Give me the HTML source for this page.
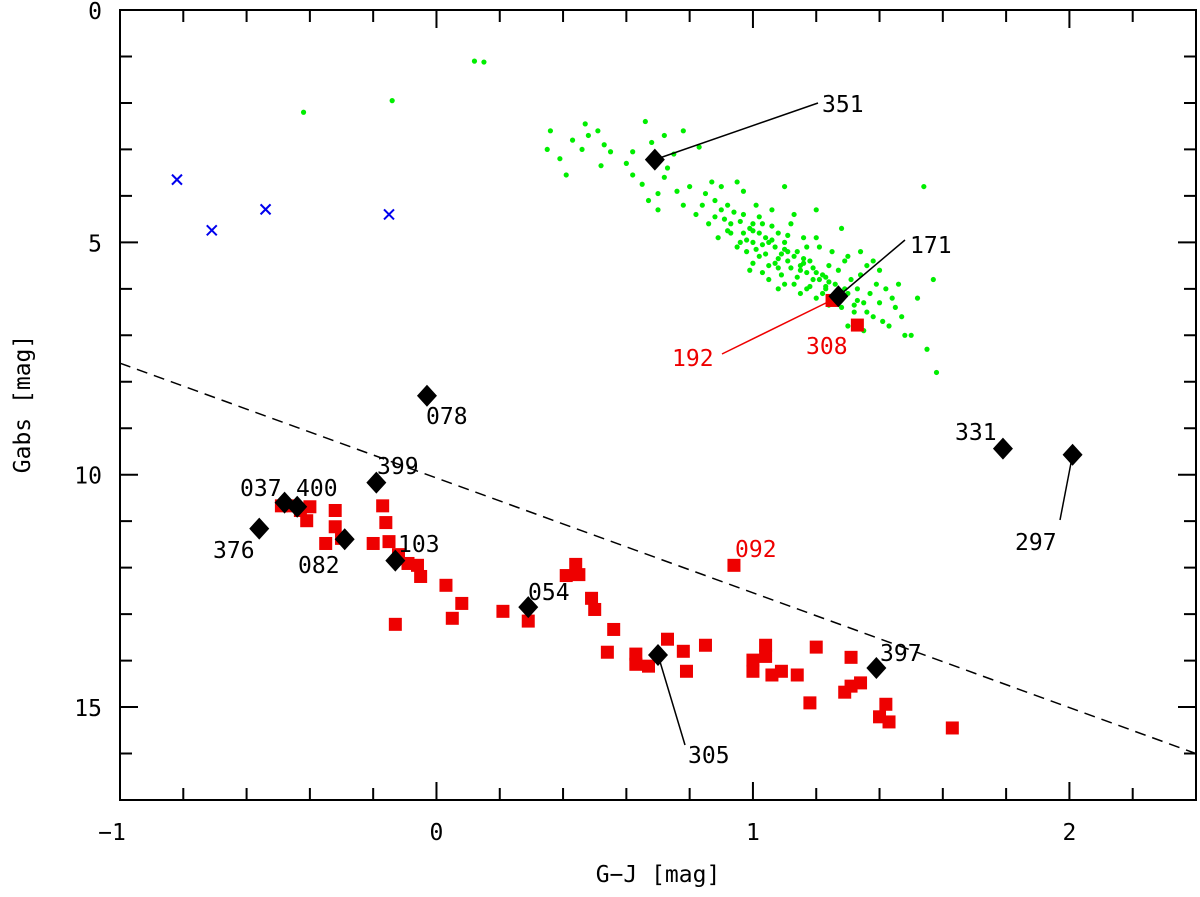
<!DOCTYPE html>
<html><head><meta charset="utf-8"><style>
body{margin:0;background:#fff}
svg text{font-family:"DejaVu Sans Mono","Liberation Mono",monospace;font-size:23px}
</style></head><body>
<svg id="chart" width="1200" height="892" xmlns="http://www.w3.org/2000/svg">
<g id="axes"></g><g id="marks"></g><g id="labels"></g>
</svg>
<script>
const xTicks=[-1,0,1,2];
const yTicks=[0,5,10,15];
const greenX=[0.12,0.15,-0.42,-0.14,0.36,0.35,0.39,0.41,0.43,0.47,0.48,0.51,0.55,0.53,0.46,0.52,0.6,0.62,0.66,0.68,0.72,0.78,0.83,0.75,0.62,0.65,0.67,0.7,0.72,0.73,0.8,0.78,0.82,0.85,0.88,0.9,0.92,0.95,0.97,0.86,0.89,0.91,0.93,0.95,0.97,0.99,1.0,1.01,1.02,1.03,1.04,1.05,1.06,1.07,1.08,1.09,1.1,1.11,1.12,1.13,1.14,1.15,1.16,1.17,1.18,1.19,1.2,1.21,1.22,1.23,1.24,1.25,1.26,1.27,1.28,1.29,1.3,1.31,1.32,1.33,1.34,1.35,1.36,1.37,1.38,1.39,1.4,1.42,1.43,1.45,1.47,1.5,1.52,1.54,1.57,1.58,1.55,1.48,0.94,0.96,0.98,1.0,1.02,1.04,1.06,1.08,1.1,1.12,1.14,1.16,1.18,1.2,1.22,1.24,1.26,1.0,0.98,0.96,0.93,0.9,1.05,1.1,1.15,1.3,1.35,1.02,1.06,1.11,1.17,1.25,1.3,1.34,1.38,0.87,1.1,1.2,1.28,1.2,0.99,1.03,1.08,0.84,0.76,0.7,0.88,1.13,1.01,1.07,1.13,1.19,1.23,1.29,1.33,1.36,1.41,1.44,1.46,1.4,0.97,1.03,1.09,1.15,1.21,1.27,1.05,1.11,1.17,1.23,0.92,1.0,1.08,1.16,1.24,1.32];
const greenY=[1.1,1.12,2.2,1.95,2.6,3.0,3.2,3.55,2.8,2.45,2.7,2.6,3.05,2.9,3.0,3.35,3.3,3.05,2.4,2.85,2.7,2.6,2.95,3.1,3.55,3.75,4.1,4.3,3.6,3.4,3.8,4.2,4.4,3.95,4.1,3.8,4.2,3.7,3.9,4.6,4.9,4.5,4.8,5.1,4.4,4.7,5.0,4.2,5.3,4.6,4.9,5.5,4.3,5.1,4.8,5.7,5.0,5.4,4.6,5.9,5.2,5.6,4.9,6.0,5.4,5.8,6.2,5.1,5.7,6.0,5.5,6.3,5.9,5.6,6.4,5.4,6.1,5.8,6.5,6.0,5.7,6.3,5.5,6.1,6.6,5.9,6.3,6.0,6.8,6.4,6.6,7.0,6.2,3.8,5.8,7.8,7.3,7.0,4.35,4.55,5.2,4.6,4.8,5.25,4.95,5.35,5.15,5.55,5.75,5.45,5.95,5.65,6.1,5.85,6.2,5.45,4.95,5.0,4.6,4.3,5.8,5.9,6.1,6.8,6.9,4.45,4.65,4.85,5.1,5.2,5.3,5.2,5.4,3.7,3.8,4.3,4.7,4.9,5.6,5.65,6.0,4.2,3.9,3.95,4.45,4.4,5.15,5.45,5.3,5.55,5.75,6.0,6.25,6.5,6.7,6.2,5.9,5.6,4.8,5.05,5.25,5.5,5.8,6.05,5.0,5.2,5.65,5.95,4.75,4.75,5.55,5.35,6.35,6.35];
const redX=[-0.49,-0.46,-0.43,-0.40,-0.41,-0.35,-0.32,-0.32,-0.30,-0.20,-0.17,-0.16,-0.15,-0.12,-0.09,-0.06,-0.05,-0.13,0.03,0.05,0.08,0.21,0.29,0.41,0.44,0.45,0.49,0.50,0.56,0.54,0.63,0.63,0.67,0.73,0.78,0.79,0.85,0.94,1.00,1.00,1.04,1.04,1.06,1.09,1.14,1.18,1.20,1.29,1.31,1.31,1.34,1.42,1.40,1.43,1.63,1.33,1.25];
const redY=[10.67,10.67,10.77,10.69,10.99,11.48,10.77,11.12,11.37,11.48,10.67,11.03,11.44,11.72,11.91,11.95,12.19,13.22,12.38,13.09,12.77,12.94,13.15,12.17,11.93,12.15,12.66,12.90,13.33,13.82,13.86,14.08,14.12,13.54,13.80,14.23,13.67,11.95,13.99,14.23,13.91,13.67,14.31,14.23,14.31,14.91,13.71,14.68,13.93,14.55,14.48,14.94,15.21,15.32,15.45,6.78,6.25];
const blueX=[-0.82,-0.71,-0.54,-0.15];
const blueY=[3.65,4.74,4.29,4.40];
const diaX=[0.69,1.27,-0.03,1.79,2.01,-0.19,-0.48,-0.44,-0.56,-0.29,-0.13,0.29,0.70,1.39];
const diaY=[3.22,6.16,8.30,9.44,9.57,10.17,10.60,10.69,11.16,11.39,11.85,12.85,13.88,14.16];
const diaLab=["351","171","078","331","297","399","037","400","376","082","103","054","305","397"];
const lineX=[-1,2.4];
const lineY=[7.6,16.0];

const X0=120,X1=1196,XMIN=-1,XMAX=2.4,Y0=10,Y1=800,YMIN=0,YMAX=17;
const sx=v=>X0+(v-XMIN)/(XMAX-XMIN)*(X1-X0);
const sy=v=>Y0+(v-YMIN)/(YMAX-YMIN)*(Y1-Y0);
const NS="http://www.w3.org/2000/svg";
function mk(tag,attrs,parent){const e=document.createElementNS(NS,tag);for(const k in attrs)e.setAttribute(k,attrs[k]);document.getElementById(parent).appendChild(e);return e;}

let f=mk('rect',{x:X0,y:Y0,width:X1-X0,height:Y1-Y0,fill:'none',stroke:'#000','stroke-width':2},'axes');


for(let i=0;i<=17;i++){const v=-1+i*0.2;const x=sx(v);const major=Math.abs(v-Math.round(v))<1e-6;const L=major?18:12;
 let t=mk('path',{d:`M${x},${Y1}v${-L}M${x},${Y0}v${L}`,stroke:'#000','stroke-width':2},'axes');
 
 }
for(let i=0;i<=17;i++){const y=sy(i);const L=i%5===0?18:12;
 let t=mk('path',{d:`M${X0},${y}h${L}M${X1},${y}h${-L}`,stroke:'#000','stroke-width':2},'axes');
 
 }
xTicks.forEach(v=>{let t=mk('text',{x:sx(v)+(v<0?-8:0),y:840,'text-anchor':'middle','font-size':26},'axes');t.textContent=v<0?'\u2212'+Math.abs(v):v;
 
 });
yTicks.forEach(v=>{let t=mk('text',{x:102,y:sy(v)+9,'text-anchor':'end','font-size':26},'axes');t.textContent=v;
 
 });
let xt=mk('text',{x:658,y:882,'text-anchor':'middle','font-size':26},'axes');xt.textContent='G\u2212J [mag]';


let yt=mk('text',{x:0,y:0,'text-anchor':'middle','font-size':26,transform:'translate(30,404) rotate(-90)'},'axes');yt.textContent='Gabs [mag]';



let dl=mk('line',{x1:sx(lineX[0]),y1:sy(lineY[0]),x2:sx(lineX[1]),y2:sy(lineY[1]),stroke:'#000','stroke-width':1.5,'stroke-dasharray':'11,7'},'marks');



greenX.forEach((v,i)=>{let c=mk('circle',{cx:sx(v),cy:sy(greenY[i]),r:2.6,fill:'#00ee00'},'marks');
 
 });
blueX.forEach((v,i)=>{const x=sx(v),y=sy(blueY[i]);let c=mk('path',{d:`M${x-5},${y-5}L${x+5},${y+5}M${x-5},${y+5}L${x+5},${y-5}`,stroke:'#0000ee','stroke-width':2},'marks');
 
 });
redX.forEach((v,i)=>{let c=mk('rect',{x:sx(v)-6.5,y:sy(redY[i])-6.5,width:13,height:13,fill:'#ee0000'},'marks');
 
 });

const leaders=[[0,818,103,'#000'],[1,905,240,'#000'],[4,1060,520,'#000'],[12,685,745,'#000']];
leaders.forEach(l=>{const i=l[0];let p=mk('line',{x1:sx(diaX[i]),y1:sy(diaY[i]),x2:l[1],y2:l[2],stroke:l[3],'stroke-width':1.5},'marks');
 
 });
let rl=mk('line',{x1:832,y1:300,x2:722,y2:354,stroke:'#ee0000','stroke-width':1.5},'marks');



diaX.forEach((v,i)=>{const x=sx(v),y=sy(diaY[i]);let d=mk('path',{d:`M${x},${y-11}L${x+10},${y}L${x},${y+11}L${x-10},${y}Z`,fill:'#000'},'marks');
 
 });

const labPos={"351":[822,112],"171":[910,253],"078":[426,424],"331":[955,440],"297":[1015,550],"399":[377,474],"037":[240,496],"400":[296,496],"376":[213,558],"082":[298,573],"103":[398,552],"054":[528,600],"305":[688,763],"397":[880,661]};
diaLab.forEach(n=>{const p=labPos[n];let t=mk('text',{x:p[0],y:p[1]},'labels');t.textContent=n;
 
 });
[["192",672,366],["308",806,354],["092",735,557]].forEach(r=>{let t=mk('text',{x:r[1],y:r[2],fill:'#ee0000'},'labels');t.textContent=r[0];
 
 });
</script>
</body></html>
